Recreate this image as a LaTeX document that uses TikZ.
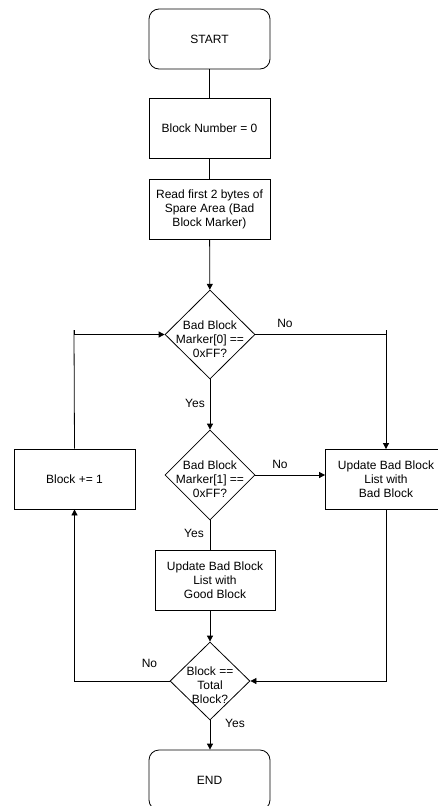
\documentclass[tikz,border=0pt]{standalone}
\usepackage{fontspec}
\setmainfont{Liberation Sans}
\usetikzlibrary{shapes.geometric,arrows.meta}
\begin{document}
\begin{tikzpicture}[x=1pt,y=-1pt,
  every node/.style={font=\fontsize{12}{14}\selectfont, align=center},
  term/.style={draw, rounded corners=10pt, minimum width=121pt, minimum height=60pt, inner sep=0pt},
  proc/.style={draw, minimum width=121pt, minimum height=60pt, inner sep=0pt},
  dec/.style={draw, diamond, inner sep=0pt},
  conn/.style={line width=0.8pt, line join=miter},
  arr/.style={conn, -{Triangle[length=6pt,width=6pt]}},
  lbl/.style={inner sep=0pt, fill=none}
]
\useasboundingbox (0,0) rectangle (438,806);
\clip (0,0) rectangle (438,806);

% blocks
\node[term, line width=0.8pt] (start) at (209.5,39) {START};
\node[proc, line width=0.8pt] (bn) at (209.5,128) {Block Number = 0};
\node[proc, line width=0.8pt] (rd) at (209.5,209.5) {Read first 2 bytes of\\Spare Area (Bad\\Block Marker)};
\node[dec, line width=0.8pt, minimum width=90pt, minimum height=89pt] (d1) at (210,334.5) {};
\node at (210,339) {Bad Block\\Marker[0] ==\\0xFF?};
\node[dec, line width=0.8pt, minimum width=90pt, minimum height=90pt] (d2) at (210,475) {};
\node at (210,479) {Bad Block\\Marker[1] ==\\0xFF?};
\node[proc, line width=0.8pt] (inc) at (74.5,479) {Block += 1};
\node[proc, line width=0.8pt] (bad) at (386,479.5) {Update Bad Block\\List with\\Bad Block};
\node[proc, line width=0.8pt, minimum width=120pt] (good) at (215,580) {Update Bad Block\\List with\\Good Block};
\node[dec, line width=0.8pt, minimum width=80pt, minimum height=78pt] (d3) at (210,681) {};
\node at (210,685) {Block ==\\Total\\Block?};
\node[term, line width=0.8pt] (end) at (209.5,780) {END};

% corner points of the loop connectors
\coordinate (cl) at (74,330);
\coordinate (cr) at (386,330);

% connectors
\draw[conn] (start) -- (bn);
\draw[conn] (bn) -- (rd);
\draw[arr] (rd) -- (d1);
\draw[arr] (d1.south) -- (d2.north);
\draw[conn] (d1.east) -| (cr);
\draw[arr] (cr) -- (bad.north);
\draw[conn] (inc.north) -- (cl);
\draw[arr] (cl) |- (d1.west);
\draw[arr] (d2.east) -- (d2.east -| bad.west);
\draw[conn] (d2.south) -- (d2.south |- good.north);
\draw[arr] (good.south -| d3.north) -- (d3.north);
\draw[arr] (d3.west) -| (inc.south);
\draw[arr] (bad.south) |- (d3.east);
\draw[arr] (d3.south) -- (end.north -| d3.south);

% branch labels
\node[lbl] at (285,323) {No};
\node[lbl] at (195,403) {Yes};
\node[lbl] at (280,464) {No};
\node[lbl] at (194,533) {Yes};
\node[lbl] at (149.5,663) {No};
\node[lbl] at (235,723) {Yes};
\end{tikzpicture}
\end{document}
